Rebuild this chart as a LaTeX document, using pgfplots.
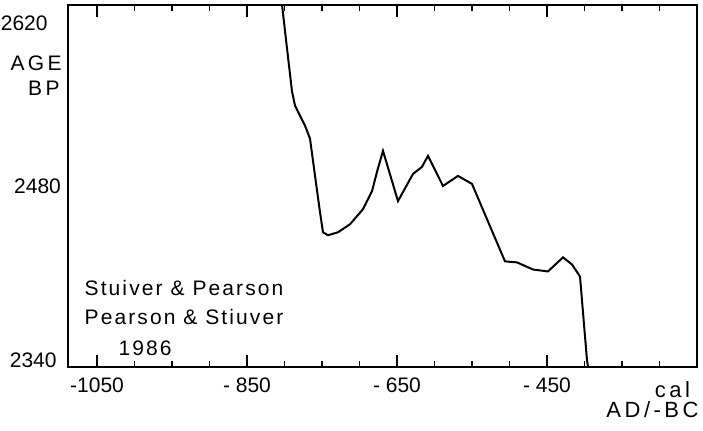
\documentclass[border=0pt]{standalone}
\usepackage{fontspec}
\setmainfont{Liberation Sans}
\newfontfamily\spaced[LetterSpace=10]{Liberation Sans}
\newfontfamily\wide[LetterSpace=16]{Liberation Sans}
\usepackage{pgfplots}
\pgfplotsset{compat=1.18}
\begin{document}
\begin{tikzpicture}
\useasboundingbox (-34pt,-32pt) rectangle (317.5pt,183.5pt);
\begin{axis}[
  at={(0,0)}, anchor=south west,
  scale only axis, width=314.5pt, height=181pt,
  xmin=-1088.7, xmax=-250, ymin=2340, ymax=2620,
  axis line style={line width=1.1pt},
  tick align=inside,
  xtick={-1050,-850,-650,-450},
  xticklabels={-1050,- 850,- 650,- 450},
  minor xtick={-1000,-950,-900,-800,-750,-700,-600,-550,-500,-400,-350,-300},
  ytick={2480},
  yticklabels={2480},
  ytick style={draw=none},
  minor ytick={2375,2410,2445,2480,2515,2550,2585},
  major tick length=6pt, minor tick length=3pt,
  tick style={black, line width=0.9pt},
  minor tick style={black, line width=0.9pt},
  xtick pos=both, ytick pos=both,
  yticklabel pos=left, xticklabel pos=bottom,
  tick label style={font=\fontsize{10.5}{12}\selectfont},
  xticklabel style={yshift=-2pt},
  /pgf/number format/assume math mode=true,
  clip=false,
]
\addplot[black, line width=1pt] coordinates {
(-803.3,2620) (-796.7,2586.6) (-790,2553.1) (-786,2542.2) (-772.7,2526.7)
(-766,2516.6) (-759.3,2487.8) (-752.7,2459.8) (-748.7,2444.2) (-742,2441.9)
(-728.7,2444.2) (-712.7,2450.4) (-695.3,2462.1) (-683.3,2476.1) (-676.7,2490.9)
(-668.7,2507.2) (-648.7,2468.3) (-628.7,2489.3) (-616.7,2494.8) (-608.7,2503.3)
(-588.7,2480) (-568.7,2487.8) (-550,2481.6) (-530,2454.3) (-506,2421.7)
(-490,2420.9) (-468.7,2415.4) (-448.7,2413.9) (-428.7,2424.8) (-416.7,2419.3)
(-406,2410) (-396.7,2345.4) (-395.3,2340)
};
\node[font=\spaced\fontsize{10.5}{12}\selectfont] at (axis cs:-934,2401.4) {Stuiver \& Pearson};
\node[font=\spaced\fontsize{10.5}{12}\selectfont] at (axis cs:-934,2378.9) {Pearson \& Stiuver};
\node[font=\spaced\fontsize{10.5}{12}\selectfont] at (axis cs:-986,2354.8) {1986};
\node[font=\fontsize{10.5}{12}\selectfont, anchor=east, inner sep=0pt] at ([xshift=-10pt]rel axis cs:0,0.950) {2620};
\node[font=\fontsize{10.5}{12}\selectfont, anchor=east, inner sep=0pt] at ([xshift=-5.5pt]rel axis cs:0,0.019) {2340};
\node[font=\wide\fontsize{10.5}{12}\selectfont, anchor=east, inner sep=0pt] at ([xshift=-3pt]rel axis cs:0,0.840) {AGE};
\node[font=\wide\fontsize{10.5}{12}\selectfont, anchor=east, inner sep=0pt] at ([xshift=-4pt]rel axis cs:0,0.771) {BP};
\node[font=\wide\fontsize{11}{12}\selectfont, inner sep=0pt] at (rel axis cs:0.961,-0.0635) {cal};
\node[font=\wide\fontsize{11}{12}\selectfont, anchor=east, inner sep=0pt] at ([xshift=1pt]rel axis cs:1,-0.119) {AD/-BC};
\end{axis}
\end{tikzpicture}
\end{document}
